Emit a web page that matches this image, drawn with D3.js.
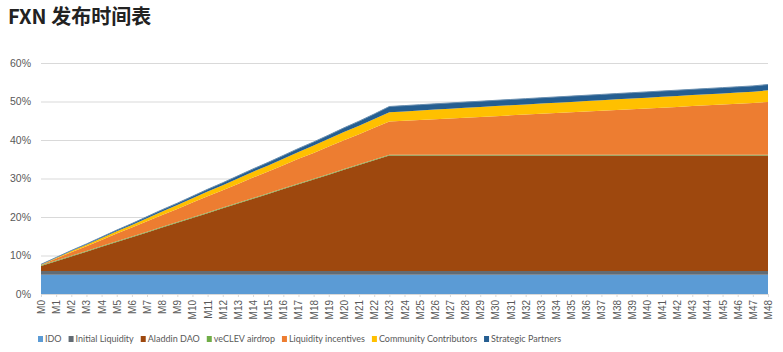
<!DOCTYPE html>
<html>
<head>
<meta charset="utf-8">
<script src="https://cdn.jsdelivr.net/npm/d3@7"></script>
<style>
  body { margin: 0; background: #fff; }
  svg { display: block; font-family: "Open Sans", "Noto Sans", sans-serif; }
</style>
</head>
<body>
<svg id="chart"></svg>
<script>
const months = ['M0', 'M1', 'M2', 'M3', 'M4', 'M5', 'M6', 'M7', 'M8', 'M9', 'M10', 'M11', 'M12', 'M13', 'M14', 'M15', 'M16',
  'M17', 'M18', 'M19', 'M20', 'M21', 'M22', 'M23', 'M24', 'M25', 'M26', 'M27', 'M28', 'M29', 'M30', 'M31', 'M32',
  'M33', 'M34', 'M35', 'M36', 'M37', 'M38', 'M39', 'M40', 'M41', 'M42', 'M43', 'M44', 'M45', 'M46', 'M47', 'M48'];

const seriesNames = ['IDO', 'Initial Liquidity', 'Aladdin DAO', 'veCLEV airdrop', 'Liquidity incentives', 'Community Contributors', 'Strategic Partners'];
const seriesColors = ['#5b9bd5', '#636b73', '#9e480e', '#70ad47', '#ed7d31', '#ffc000', '#255e91'];

// percent of supply released, per month
const ido = [5, 5, 5, 5, 5, 5, 5, 5, 5, 5, 5, 5, 5, 5, 5, 5, 5, 5, 5, 5, 5, 5, 5, 5, 5,
  5, 5, 5, 5, 5, 5, 5, 5, 5, 5, 5, 5, 5, 5, 5, 5, 5, 5, 5, 5, 5, 5, 5, 5];
const initialLiquidity = [1, 1, 1, 1, 1, 1, 1, 1, 1, 1, 1, 1, 1, 1, 1, 1, 1, 1, 1, 1, 1, 1, 1, 1, 1,
  1, 1, 1, 1, 1, 1, 1, 1, 1, 1, 1, 1, 1, 1, 1, 1, 1, 1, 1, 1, 1, 1, 1, 1];
const aladdinDao = [1.25, 2.5, 3.75, 5, 6.25, 7.5, 8.75, 10, 11.25, 12.5, 13.75, 15, 16.25, 17.5, 18.75, 20,
  21.25, 22.5, 23.75, 25, 26.25, 27.5, 28.75, 30, 30, 30, 30, 30, 30, 30, 30, 30, 30,
  30, 30, 30, 30, 30, 30, 30, 30, 30, 30, 30, 30, 30, 30, 30, 30];
const veclevAirdrop = [0.2, 0.2, 0.2, 0.2, 0.2, 0.2, 0.2, 0.2, 0.2, 0.2, 0.2, 0.2, 0.2, 0.2, 0.2, 0.2, 0.2,
  0.2, 0.2, 0.2, 0.2, 0.2, 0.2, 0.2, 0.2, 0.2, 0.2, 0.2, 0.2, 0.2, 0.2, 0.2, 0.2,
  0.2, 0.2, 0.2, 0.2, 0.2, 0.2, 0.2, 0.2, 0.2, 0.2, 0.2, 0.2, 0.2, 0.2, 0.2, 0.2];
const liquidityIncentives = [0.1, 0.5, 0.9, 1.2, 1.6, 2.0, 2.3, 2.7, 3.1, 3.4, 3.8, 4.2, 4.5, 4.9, 5.3, 5.6,
  6.0, 6.4, 6.7, 7.1, 7.5, 7.8, 8.2, 8.6, 8.8, 9.0, 9.2, 9.4, 9.6, 9.8, 10.0, 10.2, 10.4,
  10.6, 10.8, 11.0, 11.2, 11.4, 11.6, 11.8, 12.0, 12.2, 12.4, 12.6, 12.8, 13.0, 13.2, 13.4, 13.7];
const communityContributors = [0.1, 0.2, 0.3, 0.4, 0.5, 0.6, 0.7, 0.8, 0.9, 1.0, 1.1, 1.2, 1.3, 1.4, 1.5, 1.6,
  1.7, 1.8, 1.9, 2.0, 2.1, 2.2, 2.3, 2.4, 2.43, 2.46, 2.49, 2.52, 2.55, 2.57, 2.6, 2.62, 2.64,
  2.66, 2.68, 2.7, 2.72, 2.74, 2.76, 2.78, 2.8, 2.82, 2.84, 2.86, 2.88, 2.9, 2.92, 2.95, 3.0];
const strategicPartners = [0.05, 0.1, 0.15, 0.2, 0.25, 0.3, 0.35, 0.4, 0.45, 0.5, 0.55, 0.6, 0.65, 0.7, 0.75, 0.8,
  0.85, 0.9, 0.95, 1.0, 1.1, 1.2, 1.3, 1.5, 1.5, 1.5, 1.5, 1.5, 1.5, 1.5, 1.5, 1.5, 1.5,
  1.5, 1.5, 1.5, 1.5, 1.5, 1.5, 1.5, 1.5, 1.5, 1.5, 1.5, 1.5, 1.5, 1.5, 1.5, 1.5];

const yTicks = [0, 10, 20, 30, 40, 50, 60];

const seriesValues = [ido, initialLiquidity, aladdinDao, veclevAirdrop, liquidityIncentives, communityContributors, strategicPartners];

const svgDim = { w: 783, h: 352 },
  plot = { l: 41, r: 768, t: 63, b: 294 },
  $svg = d3.select('#chart')
    .attr('width', svgDim.w)
    .attr('height', svgDim.h)
    .attr('viewBox', '0 0 ' + svgDim.w + ' ' + svgDim.h);

const rows = months.map((m, i) => {
  const row = { month: m };
  seriesNames.forEach((name, s) => { row[name] = seriesValues[s][i]; });
  return row;
});

const stacked = d3.stack().keys(seriesNames)(rows);

const xScale = d3.scalePoint().domain(months).range([plot.l, plot.r]),
  yScale = d3.scaleLinear().domain([0, 60]).range([plot.b, plot.t]);

// title
$svg.append('text')
  .text('FXN 发布时间表')
  .attr('x', 8)
  .attr('y', 24)
  .attr('font-size', 20)
  .attr('font-weight', 'bold')
  .attr('fill', '#222')
  .attr('font-family', '"Noto Sans CJK SC", "Noto Sans", sans-serif');

// gridlines + y labels
$svg.append('g')
  .attr('transform', 'translate(' + plot.l + ',0)')
  .call(d3.axisLeft(yScale).tickValues(yTicks).tickSize(-(plot.r - plot.l)).tickFormat((d) => d + '%'))
  .call((g) => g.select('.domain').remove())
  .call((g) => g.selectAll('.tick line').attr('stroke', '#d9d9d9'))
  .call((g) => g.selectAll('.tick text').attr('x', -10).attr('fill', '#595959').attr('font-size', 10.5));

const area = d3.area()
  .x((d) => xScale(d.data.month))
  .y0((d) => yScale(d[0]))
  .y1((d) => yScale(d[1]));

$svg.append('g').selectAll('path')
  .data(stacked)
  .enter()
  .append('path')
  .attr('d', area)
  .attr('fill', (d, i) => seriesColors[i]);

// soft edge on the top series like the original
$svg.append('path')
  .datum(stacked[stacked.length - 1])
  .attr('d', d3.line().x((d) => xScale(d.data.month)).y((d) => yScale(d[1])))
  .attr('fill', 'none')
  .attr('stroke', '#6a8fb0')
  .attr('stroke-width', 1);

// x axis
const xAxis = $svg.append('g')
  .attr('transform', 'translate(0,' + plot.b + ')')
  .call(d3.axisBottom(xScale).tickSize(3));
xAxis.select('.domain').attr('stroke', '#d9d9d9');
xAxis.selectAll('.tick line').attr('stroke', '#d9d9d9');
xAxis.selectAll('.tick text')
  .attr('fill', '#595959')
  .attr('font-size', 10)
  .attr('text-anchor', 'end')
  .attr('dy', '0.35em')
  .attr('transform', 'translate(0,6) rotate(-90)')
  .attr('x', 0)
  .attr('y', 0);

// legend
const legend = $svg.append('g').attr('transform', 'translate(38,339)');
let lx = 0;
seriesNames.forEach((name, i) => {
  const item = legend.append('g').attr('transform', 'translate(' + lx + ',0)');
  item.append('rect').attr('x', 0).attr('y', -3).attr('width', 5).attr('height', 6).attr('fill', seriesColors[i]);
  const t = item.append('text')
    .text(name)
    .attr('x', 7)
    .attr('y', 0)
    .attr('dy', '0.35em')
    .attr('font-size', 9)
    .attr('font-family', 'Lato, sans-serif')
    .attr('fill', '#595959');
  lx += 7 + t.node().getComputedTextLength() + 7;
});
</script>
</body>
</html>
